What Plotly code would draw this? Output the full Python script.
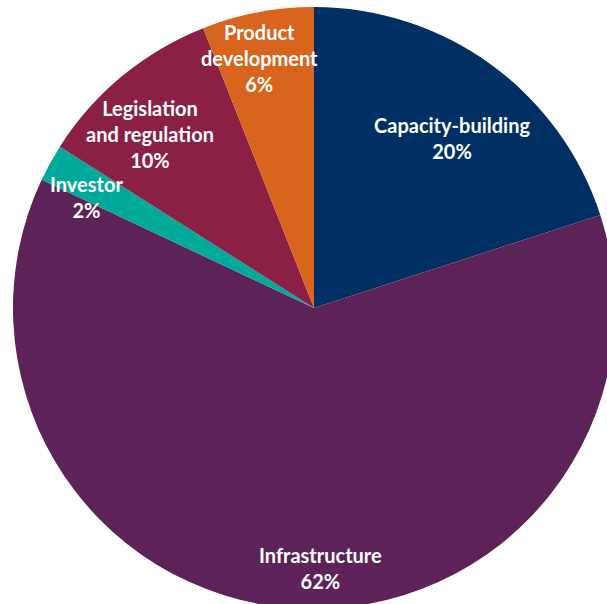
import math
import plotly.graph_objects as go

# Share of spending by area (percent)
categories = ["Capacity-building", "Infrastructure", "Investor",
              "Legislation and regulation", "Product development"]
shares = [20, 62, 2, 10, 6]
label_lines = ["Capacity-building", "Infrastructure", "Investor",
               "Legislation<br>and regulation", "Product<br>development"]
colors = ["#003063", "#5d2358", "#00aa9b", "#8b2045", "#d9641e"]

# Label placement: fraction of radius and angular nudge (degrees) from slice middle
label_radius = [0.727, 0.864, 0.84, 0.795, 0.85]
label_nudge = [3.1, -5.1, -2.7, -3.7, -1.4]

W, H = 616, 610
CX, CY, R = 314, 308, 301  # pie centre and radius in pixels

fig = go.Figure(go.Pie(
    labels=categories,
    values=shares,
    sort=False,
    direction="clockwise",
    rotation=0,
    marker=dict(colors=colors, line=dict(width=0)),
    textinfo="none",
    hoverinfo="label+percent",
    showlegend=False,
    domain=dict(x=[(CX - R) / W, (CX + R) / W],
                y=[1 - (CY + R) / H, 1 - (CY - R) / H]),
))

total = sum(shares)
start = 0.0
annotations = []
for name, val, rf, nudge in zip(label_lines, shares, label_radius, label_nudge):
    span = 360.0 * val / total
    mid = math.radians(start + span / 2 + nudge)
    start += span
    px = CX + rf * R * math.sin(mid)
    py = CY - rf * R * math.cos(mid)
    annotations.append(dict(
        x=px / W, y=1 - py / H, xref="paper", yref="paper",
        text=f"{name}<br>{round(100 * val / total)}%",
        showarrow=False, xanchor="center", yanchor="middle", align="center",
        font=dict(family="Lato", size=20, color="white", weight="bold"),
    ))

fig.update_layout(
    width=W, height=H,
    margin=dict(l=0, r=0, t=0, b=0),
    paper_bgcolor="white",
    plot_bgcolor="white",
    annotations=annotations,
)

fig.write_html(
    "out.html",
    post_script="document.body.style.margin='0';document.body.style.overflow='hidden';",
)
